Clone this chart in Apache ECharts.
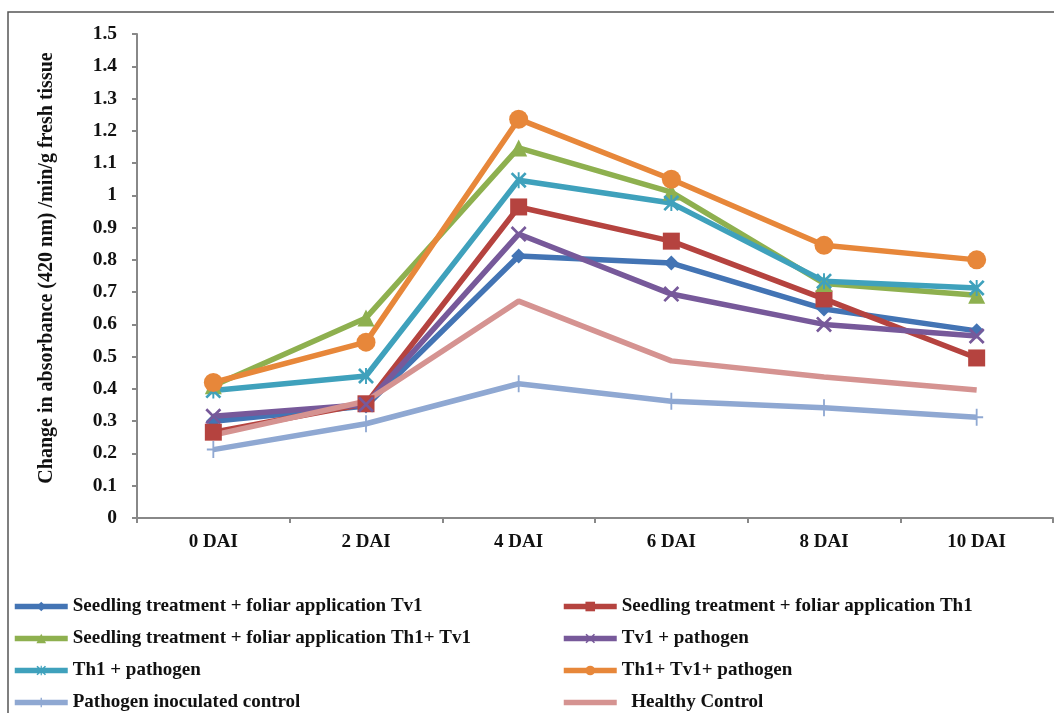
<!DOCTYPE html>
<html>
<head>
<meta charset="utf-8">
<script src="https://cdn.jsdelivr.net/npm/echarts@6/dist/echarts.min.js"></script>
<style>
html,body{margin:0;padding:0;background:#fff;}
#chart{width:1054px;height:713px;}
</style>
</head>
<body>
<div id="chart"></div>
<script>
const categories = ['0 DAI', '2 DAI', '4 DAI', '6 DAI', '8 DAI', '10 DAI'];
const yTicks = [0, 1.5, 0.1];

const seedlingTv1 = [0.30, 0.347, 0.812, 0.79, 0.648, 0.58];
const seedlingTh1 = [0.266, 0.354, 0.964, 0.858, 0.679, 0.496];
const seedlingTh1Tv1 = [0.41, 0.62, 1.147, 1.01, 0.727, 0.69];
const tv1Pathogen = [0.315, 0.352, 0.88, 0.694, 0.60, 0.564];
const th1Pathogen = [0.395, 0.44, 1.047, 0.976, 0.734, 0.713];
const th1Tv1Pathogen = [0.42, 0.545, 1.236, 1.05, 0.845, 0.80];
const pathogenControl = [0.212, 0.292, 0.416, 0.362, 0.342, 0.312];
const healthyControl = [0.257, 0.362, 0.672, 0.487, 0.437, 0.397];

const names = [
  'Seedling treatment + foliar application Tv1',
  'Seedling treatment + foliar application Th1',
  'Seedling treatment + foliar application Th1+ Tv1',
  'Tv1 + pathogen',
  'Th1 + pathogen',
  'Th1+ Tv1+ pathogen',
  'Pathogen inoculated control',
  'Healthy Control'
];

const X_PATH = 'path://M0,1.2 L1.2,0 L10,8.8 L8.8,10 Z M8.8,0 L10,1.2 L1.2,10 L0,8.8 Z';
const STAR_PATH = 'path://M0,1.2 L1.2,0 L10,8.8 L8.8,10 Z M8.8,0 L10,1.2 L1.2,10 L0,8.8 Z M4.4,0 L5.6,0 L5.6,10 L4.4,10 Z';
const PLUS_PATH = 'path://M4.3,0 L5.7,0 L5.7,10 L4.3,10 Z M0,4.4 L10,4.4 L10,5.6 L0,5.6 Z';

const specs = [
  {data: seedlingTv1, color: '#4374B4', symbol: 'diamond', size: 15},
  {data: seedlingTh1, color: '#B5433F', symbol: 'rect', size: 17},
  {data: seedlingTh1Tv1, color: '#8EB04F', symbol: 'triangle', size: 17},
  {data: tv1Pathogen, color: '#77599A', symbol: X_PATH, size: 16},
  {data: th1Pathogen, color: '#3FA1BC', symbol: STAR_PATH, size: 16},
  {data: th1Tv1Pathogen, color: '#E7873A', symbol: 'circle', size: 19},
  {data: pathogenControl, color: '#8FA8D2', symbol: PLUS_PATH, size: [13, 17]},
  {data: healthyControl, color: '#D59391', symbol: 'none', size: 0}
];

const series = specs.map((s, i) => ({
  name: names[i],
  type: 'line',
  data: s.data,
  symbol: s.symbol,
  symbolSize: s.size,
  showSymbol: s.symbol !== 'none',
  lineStyle: {color: s.color, width: 5.5},
  itemStyle: {color: s.color, borderWidth: 0},
  emphasis: {disabled: true},
  animation: false
}));

const serif = '"Liberation Serif", "DejaVu Serif", serif';
const legendText = {fontFamily: serif, fontWeight: 'bold', fontSize: 19, color: '#111'};

// legend placement: left column items 0,2,4,6 ; right column items 1,3,5,7
const legendRows = [607, 639, 671, 703];
const legends = names.map((n, i) => {
  const lg = {
    data: [n],
    orient: 'horizontal',
    left: i % 2 === 0 ? 12 : 561,
    top: legendRows[Math.floor(i / 2)] - 10,
    padding: 0,
    itemWidth: 53,
    itemHeight: 12,
    itemGap: 0,
    lineStyle: {width: 5.5},
    textStyle: legendText,
    selectedMode: false,
    formatter: nm => nm === 'Healthy Control' ? '  ' + nm : nm
  };
  if (n === 'Healthy Control') lg.itemStyle = {opacity: 0};
  return lg;
});

const chart = echarts.init(document.getElementById('chart'));
chart.setOption({
  animation: false,
  backgroundColor: '#fff',
  grid: {left: 137, right: 1, top: 34, bottom: 195, containLabel: false},
  graphic: [{
    type: 'rect', z: -1,
    shape: {x: 8, y: 12, width: 1100, height: 800},
    style: {fill: 'none', stroke: '#555', lineWidth: 1.5}
  }],
  legend: legends,
  xAxis: {
    type: 'category',
    data: categories,
    boundaryGap: true,
    axisLine: {lineStyle: {color: '#888', width: 2}},
    axisTick: {show: true, length: 5, lineStyle: {color: '#888', width: 2}},
    axisLabel: {fontFamily: serif, fontWeight: 'bold', fontSize: 19, color: '#111', margin: 15},
    splitLine: {show: false}
  },
  yAxis: {
    type: 'value',
    min: yTicks[0], max: yTicks[1], interval: yTicks[2],
    name: 'Change in absorbance (420 nm) /min/g fresh tissue',
    nameLocation: 'middle',
    nameGap: 80,
    nameTextStyle: {fontFamily: serif, fontWeight: 'bold', fontSize: 20, color: '#111', padding: [0, 0, 0, 16]},
    axisLine: {show: true, lineStyle: {color: '#888', width: 2}},
    axisTick: {show: true, length: 5, lineStyle: {color: '#888', width: 2}},
    axisLabel: {fontFamily: serif, fontWeight: 'bold', fontSize: 19.5, color: '#111', margin: 20,
      formatter: v => String(parseFloat(v.toFixed(1)))},
    splitLine: {show: false}
  },
  series: series
});
</script>
</body>
</html>
